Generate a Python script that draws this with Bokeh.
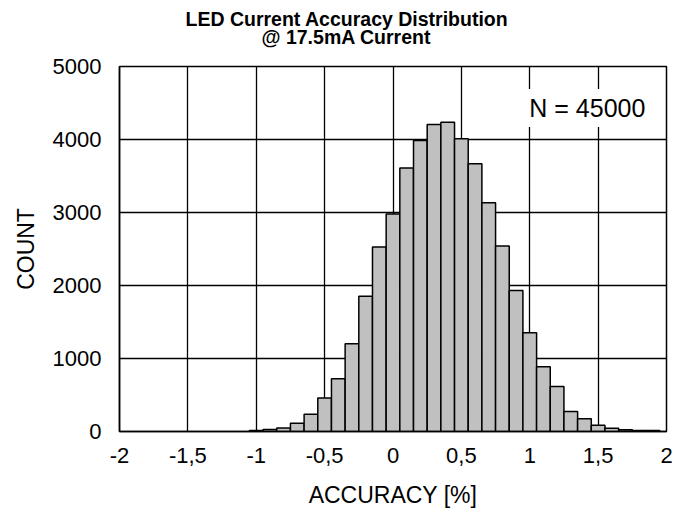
from bokeh.plotting import figure
from bokeh.models import Range1d, FixedTicker, Label, Title
from bokeh.embed import file_html
from bokeh.resources import INLINE

# ---- data ----
bin_centers = [-1.0, -0.9, -0.8, -0.7, -0.6, -0.5, -0.4, -0.3, -0.2, -0.1,
               0.0, 0.1, 0.2, 0.3, 0.4, 0.5, 0.6, 0.7, 0.8, 0.9,
               1.0, 1.1, 1.2, 1.3, 1.4, 1.5, 1.6, 1.7, 1.8, 1.9]
counts = [15, 27, 48, 112, 236, 460, 724, 1203, 1854, 2528,
          2980, 3608, 3986, 4205, 4237, 4009, 3667, 3134, 2542, 1932,
          1353, 888, 615, 273, 173, 86, 45, 25, 14, 13]
bin_width = 0.1

x_ticks = [-2, -1.5, -1, -0.5, 0, 0.5, 1, 1.5, 2]
x_tick_labels = ["-2", "-1,5", "-1", "-0,5", "0", "0,5", "1", "1,5", "2"]
y_ticks = [0, 1000, 2000, 3000, 4000, 5000]

title_line1 = "LED Current Accuracy Distribution"
title_line2 = "@ 17.5mA Current"
x_label = "ACCURACY [%]"
y_label = "COUNT"
n_text = "N = 45000"

FONT = "Liberation Sans"

p = figure(width=673, height=510, output_backend="svg", toolbar_location=None,
           x_range=Range1d(-2, 2), y_range=Range1d(0, 5000),
           min_border_left=119, min_border_right=7, min_border_top=66,
           min_border_bottom=78)

p.vbar(x=bin_centers, top=counts, width=bin_width, bottom=0,
       fill_color="#c0c0c0", line_color="black", line_width=1.5)

# axes
p.xaxis.ticker = FixedTicker(ticks=x_ticks)
p.xaxis.major_label_overrides = {t: l for t, l in zip(x_ticks, x_tick_labels)}
p.yaxis.ticker = FixedTicker(ticks=y_ticks)
for ax in (p.xaxis, p.yaxis):
    ax.major_tick_line_color = None
    ax.minor_tick_line_color = None
    ax.axis_line_color = "black"
    ax.axis_line_width = 1.5
    ax.major_label_text_font = FONT
    ax.major_label_text_font_size = "22px"
    ax.major_label_text_color = "black"
    ax.axis_label_text_font = FONT
    ax.axis_label_text_font_size = "23px"
    ax.axis_label_text_font_style = "normal"
    ax.axis_label_text_color = "black"
p.xaxis.axis_label = x_label
p.yaxis.axis_label = y_label
p.xaxis.major_label_standoff = 10
p.yaxis.major_label_standoff = 12
p.xaxis.axis_label_standoff = 16
p.yaxis.axis_label_standoff = 11

# grid
for g in (p.xgrid, p.ygrid):
    g.grid_line_color = "black"
    g.grid_line_width = 1.3
    g.grid_line_alpha = 1.0
p.xgrid.ticker = FixedTicker(ticks=x_ticks)
p.ygrid.ticker = FixedTicker(ticks=y_ticks)

p.outline_line_color = "black"
p.outline_line_width = 1.5
p.outline_line_alpha = 1.0

# N label
p.add_layout(Label(x=0.96, y=4430, text=n_text, text_align="left",
                   text_baseline="middle", text_font=FONT,
                   text_font_size="25px", text_color="black",
                   background_fill_color="white", padding=5))

# two-line title (first added sits closest to the frame)
p.add_layout(Title(text=title_line2, align="left", offset=142, standoff=38,
                   text_font=FONT, text_font_size="19.5px",
                   text_font_style="bold", text_color="black"), "above")
p.add_layout(Title(text=title_line1, align="left", offset=66, standoff=-50,
                   text_font=FONT, text_font_size="19.5px",
                   text_font_style="bold", text_color="black"), "above")

open("out.html", "w").write(file_html(p, INLINE))
